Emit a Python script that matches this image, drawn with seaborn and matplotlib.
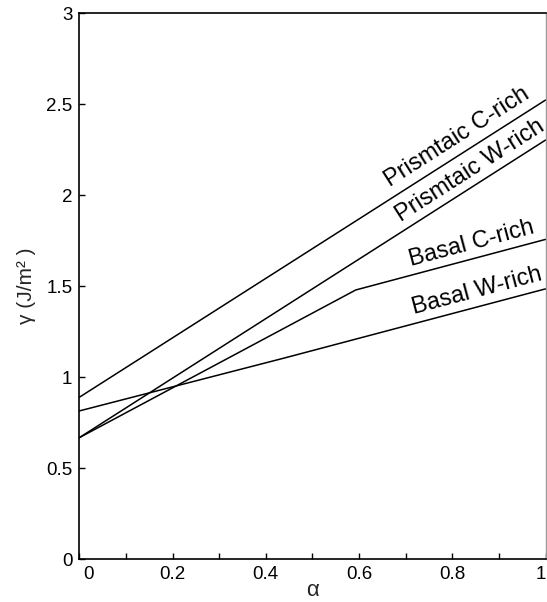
import matplotlib
matplotlib.use("Agg")
import matplotlib.pyplot as plt
import matplotlib.transforms as mtransforms
import numpy as np
import pandas as pd
import seaborn as sns

# ---- data ----
alpha_prism = [0.0, 1.0]
prism_c_rich = [0.889, 2.523]
prism_w_rich = [0.667, 2.303]
alpha_basal_c = [0.0, 0.593, 1.0]
basal_c_rich = [0.667, 1.479, 1.757]
alpha_basal_w = [0.0, 0.44, 1.0]
basal_w_rich = [0.814, 1.105, 1.485]

series_names = ["Prismtaic C-rich", "Prismtaic W-rich", "Basal C-rich", "Basal W-rich"]
label_x = [0.666, 0.690, 0.712, 0.717]
label_gap_px = [12, 10.5, 9.5, 9.5]

x_ticks = [0, 0.2, 0.4, 0.6, 0.8, 1.0]
x_tick_labels = ["0", "0.2", "0.4", "0.6", "0.8", "1"]
y_ticks = [0, 0.5, 1, 1.5, 2, 2.5, 3]
y_tick_labels = ["0", "0.5", "1", "1.5", "2", "2.5", "3"]

frames = []
for name, xs, ys in zip(series_names,
                        [alpha_prism, alpha_prism, alpha_basal_c, alpha_basal_w],
                        [prism_c_rich, prism_w_rich, basal_c_rich, basal_w_rich]):
    frames.append(pd.DataFrame({"alpha": xs, "gamma": ys, "series": name}))
df = pd.concat(frames, ignore_index=True)

sns.set_style("white")
plt.rcParams["font.family"] = ["Liberation Sans", "DejaVu Sans"]

fig = plt.figure(figsize=(5.47, 6.02), dpi=100)
ax = fig.add_axes([79.3 / 547, 43 / 602, (545.5 - 79.3) / 547, (559 - 13.3) / 602])

for name in series_names:
    sub = df[df["series"] == name]
    sns.lineplot(data=sub, x="alpha", y="gamma", ax=ax, color="black",
                 linewidth=1.1, sort=False, estimator=None, legend=False)

ax.set_xlim(0, 1)
ax.set_ylim(0, 3)
ax.set_xticks(x_ticks)
ax.set_xticklabels(x_tick_labels)
ax.set_xticks(np.arange(0.1, 1.0, 0.2), minor=True)
ax.set_yticks(y_ticks)
ax.set_yticklabels(y_tick_labels)
ax.tick_params(axis="both", which="both", direction="in", length=4, width=1,
               labelsize=13.5, colors="black", top=False, right=False,
               bottom=True, left=True)
ax.tick_params(axis="x", pad=5)
ax.tick_params(axis="y", pad=5)

# shift the first and last x labels as in the reference
xlabels = ax.get_xticklabels()
xlabels[0].set_transform(xlabels[0].get_transform() +
                         mtransforms.ScaledTranslation(9 / 100, 0, fig.dpi_scale_trans))
xlabels[-1].set_transform(xlabels[-1].get_transform() +
                          mtransforms.ScaledTranslation(-5 / 100, 0, fig.dpi_scale_trans))

for side in ["left", "bottom", "top"]:
    ax.spines[side].set_color("black")
    ax.spines[side].set_linewidth(1.2)
ax.spines["right"].set_color("#999999")
ax.spines["right"].set_linewidth(1.0)

ax.set_xlabel("α", fontsize=16, labelpad=-2)
ax.set_ylabel("γ (J/m² )", fontsize=15, labelpad=7)

# rotated labels along the lines
series_xy = [(alpha_prism, prism_c_rich), (alpha_prism, prism_w_rich),
             (alpha_basal_c, basal_c_rich), (alpha_basal_w, basal_w_rich)]
fig.canvas.draw()
for name, (xs, ys), x0, gap in zip(series_names, series_xy, label_x, label_gap_px):
    y0 = np.interp(x0, xs, ys)
    x1 = min(x0 + 0.05, 1.0)
    y1 = np.interp(x1, xs, ys)
    p0 = ax.transData.transform((x0, y0))
    p1 = ax.transData.transform((x1, y1))
    ang = np.degrees(np.arctan2(p1[1] - p0[1], p1[0] - p0[0]))
    ax.annotate(name, xy=(x0, y0), xytext=(0, gap * 72 / 100), textcoords="offset points",
                rotation=ang, rotation_mode="anchor", ha="left", va="baseline",
                fontsize=17, color="black")

fig.savefig("out.png", dpi=100)
